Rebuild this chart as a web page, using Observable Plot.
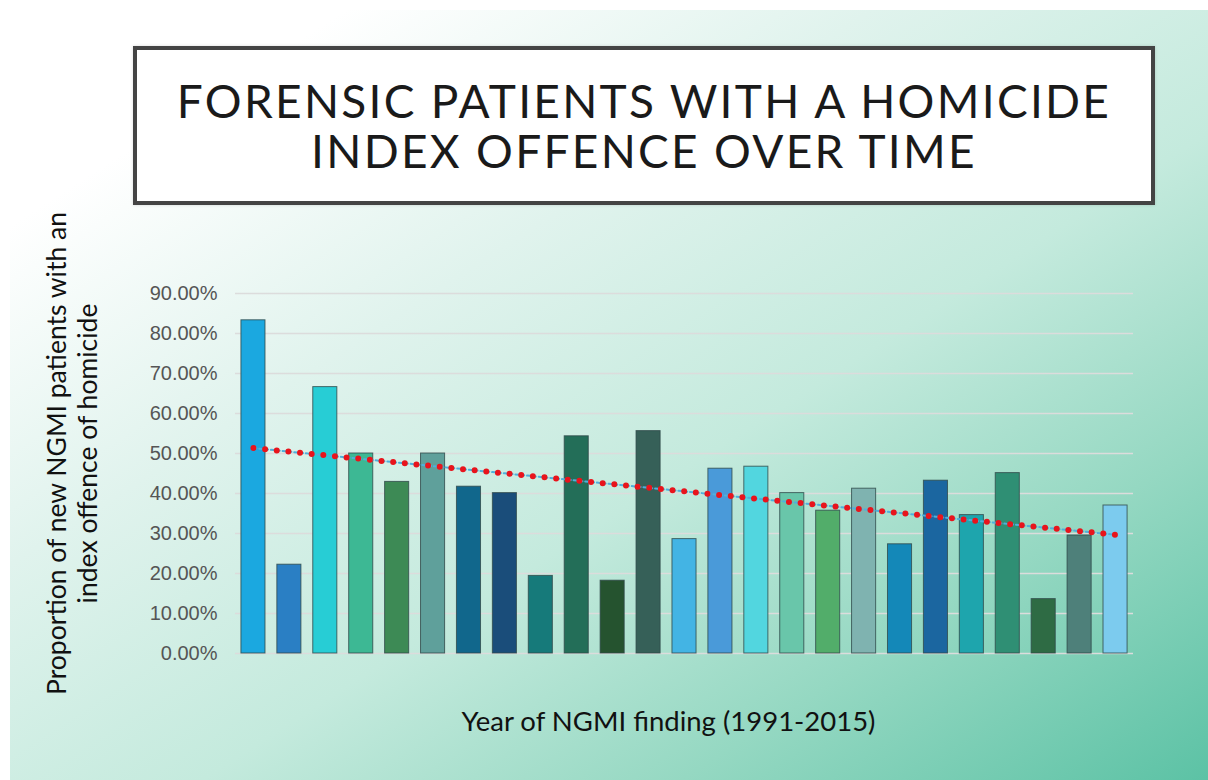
<!DOCTYPE html>
<html>
<head>
<meta charset="utf-8">
<script src="https://cdn.jsdelivr.net/npm/d3@7"></script>
<script src="https://cdn.jsdelivr.net/npm/@observablehq/plot@0.6"></script>
<style>
  html, body { margin: 0; padding: 0; background: #ffffff; }
  #page { position: relative; width: 1208px; height: 780px; overflow: hidden; background: #ffffff; }
  #bg { position: absolute; left: 10px; top: 10px; width: 1198px; height: 770px;
        background: linear-gradient(to bottom right, #ffffff 0%, #ffffff 14%, #e0f3ed 36%, #c4eadd 58%, #95d8c2 78%, #5cc2a5 100%); }
  #titlebox { position: absolute; left: 133px; top: 46px; width: 1022px; height: 159px; box-sizing: border-box;
        border: 4px solid #444; background: #fff; box-shadow: 0 0 3px rgba(0,0,0,0.15);
        display: flex; flex-direction: column; align-items: center; justify-content: center; text-align: center;
        font-family: Lato, "Open Sans", sans-serif; font-size: 46px; color: #1a1a1a; letter-spacing: 2.3px; }
  #titlebox div { height: 50px; line-height: 50px; overflow: visible; white-space: nowrap; }
  #chart { position: absolute; left: 0; top: 220px; }
</style>
</head>
<body>
<div id="page">
  <div id="bg"></div>
  <div id="titlebox"><div>FORENSIC PATIENTS WITH A HOMICIDE</div><div>INDEX OFFENCE OVER TIME</div></div>
  <div id="chart"></div>
</div>
<script>
const years = [1991,1992,1993,1994,1995,1996,1997,1998,1999,2000,2001,2002,2003,2004,2005,2006,2007,2008,2009,2010,2011,2012,2013,2014,2015];
const proportions = [0.833,0.222,0.666,0.500,0.429,0.500,0.417,0.401,0.194,0.543,0.182,0.556,0.286,0.462,0.467,0.401,0.357,0.412,0.273,0.432,0.346,0.451,0.136,0.295,0.370];
const barColors = ["#1ba8e0","#2a7fc4","#27cdd5","#3db894","#3d8a55","#5fa09b","#11678c","#1a4d7a","#167a7a","#236e58","#25532f","#366058","#43b4e4","#4a9ad9","#52d6df","#69c6aa","#52ad6a","#7fb3b0","#1488b8","#1b66a0","#1ea5ad","#2f8f74","#2e6b44","#4e807a","#7ccbee"];
const yTicks = [0,0.1,0.2,0.3,0.4,0.5,0.6,0.7,0.8,0.9];
const yLabel = "Proportion of new NGMI patients with an\nindex offence of homicide";
const xLabel = "Year of NGMI finding (1991-2015)";

const data = years.map((y, i) => ({year: y, value: proportions[i], color: barColors[i], idx: i}));

// least-squares linear trend through the data (Excel-style trendline)
const mx = d3.mean(data, d => d.idx), my = d3.mean(data, d => d.value);
const slope = d3.sum(data, d => (d.idx - mx) * (d.value - my)) / d3.sum(data, d => (d.idx - mx) ** 2);
const intercept = my - slope * mx;
const trend = data.map(d => ({year: d.year, value: intercept + slope * d.idx}));

const chart = Plot.plot({
  width: 1208,
  height: 550,
  marginTop: 73,
  marginBottom: 117,
  marginLeft: 235,
  marginRight: 75,
  style: {background: "transparent", overflow: "visible"},
  x: {type: "band", domain: years, paddingInner: 0.33, paddingOuter: 0.165, round: false, axis: null},
  y: {domain: [0, 0.9], ticks: yTicks, tickFormat: d3.format(".2%"), label: null},
  marks: [
    Plot.gridY(yTicks, {stroke: "#dcdcdc", strokeOpacity: 1, strokeWidth: 1.5}),
    Plot.axisY(yTicks, {tickFormat: d3.format(".2%"), tickSize: 0, tickPadding: 18, fontSize: 20, fill: "#555",
      fontFamily: "'Liberation Sans', Arial, sans-serif", label: null}),
    Plot.barY(data, {x: "year", y: "value", fill: "color", stroke: "#2f4a4a", strokeWidth: 1, strokeOpacity: 0.8}),
    Plot.line(trend, {x: "year", y: "value", stroke: "#4fb0dc", strokeWidth: 2, strokeDasharray: "3 2.85"}),
    Plot.line(trend, {x: "year", y: "value", stroke: "#e8141c", strokeWidth: 6, strokeLinecap: "round", strokeDasharray: "0 11.7"}),
    Plot.text([yLabel], {frameAnchor: "left", rotate: -90, dx: -164, dy: -20, fontSize: 26.5, lineHeight: 1.15,
      fontFamily: "Lato, 'Open Sans', sans-serif", fill: "#111", textAnchor: "middle", lineAnchor: "middle"}),
    Plot.text([xLabel], {frameAnchor: "bottom", dx: -16, dy: 69, fontSize: 27.5,
      fontFamily: "Lato, 'Open Sans', sans-serif", fill: "#111", textAnchor: "middle", lineAnchor: "middle"})
  ]
});
document.getElementById("chart").appendChild(chart);
</script>
</body>
</html>
